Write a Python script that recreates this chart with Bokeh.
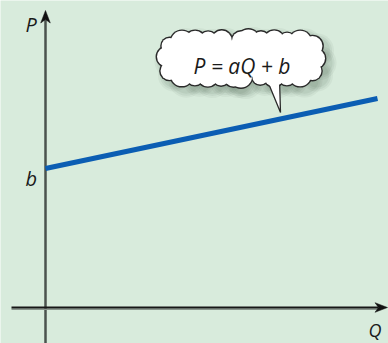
import numpy as np
from bokeh.plotting import figure
from bokeh.models import Range1d
from bokeh.core.properties import value
from bokeh.embed import file_html
from bokeh.resources import INLINE

# ---- chart values (1 unit = 10 px) ----
q_values = [0.0, 33.2]      # Q at start / end of the drawn line
p_values = [13.9, 20.9]     # P values: intercept b = 13.9
b_label = ["b"]
equation_text = ["P = aQ + b"]
axis_titles = ["P", "Q"]

BG = "#d8ebdc"
MARGIN = 0
W, H = 388, 343
PX = 10.0
OX, OY = 45.0, 307.0   # page pixel of the origin


def ux(px):
    return (px - OX) / PX


def uy(py):
    return (OY - py) / PX


p = figure(width=W, height=H,
           x_range=Range1d(ux(MARGIN), ux(MARGIN + W)),
           y_range=Range1d(uy(MARGIN + H), uy(MARGIN)),
           x_axis_type=None, y_axis_type=None,
           output_backend="svg", toolbar_location=None,
           min_border=0, outline_line_color=None,
           background_fill_color=BG, border_fill_color=BG)
p.grid.visible = False

# ---- axes ----
y_low = uy(MARGIN + H)
p.segment(x0=[0], y0=[y_low], x1=[0], y1=[uy(19)], line_width=2.5, line_color="#4b534e")
tip = uy(10)
p.patch([0, -0.48, 0, 0.48], [tip, tip - 1.25, tip - 0.9, tip - 1.25],
        fill_color="#111111", line_color="#111111", line_width=0.5)

p.segment(x0=[ux(11)], y0=[-0.17], x1=[ux(378)], y1=[-0.17], line_width=1.5, line_color="#8a968d")
p.segment(x0=[ux(11)], y0=[0], x1=[ux(378)], y1=[0], line_width=2, line_color="#161616")
tipx = ux(387)
p.patch([tipx, tipx - 1.25, tipx - 0.9, tipx - 1.25], [0, 0.48, 0, -0.48],
        fill_color="#111111", line_color="#111111", line_width=0.5)

# ---- data line ----
p.line(q_values, p_values, line_width=5, line_color="#0b5db3", line_cap="butt")

# ---- labels ----
font = value("Open Sans")
p.text(x=[ux(25)], y=[uy(24)], text=[axis_titles[0]], text_font=font,
       text_font_style="italic", text_font_size="20px", text_align="left",
       text_baseline="alphabetic", text_color="#1a1a1a")
p.text(x=[ux(25)], y=[uy(178)], text=b_label, text_font=font,
       text_font_style="italic", text_font_size="20px", text_align="left",
       text_baseline="alphabetic", text_color="#1a1a1a")
p.text(x=[ux(368)], y=[uy(329)], text=[axis_titles[1]], text_font=font,
       text_font_style="italic", text_font_size="18px", text_align="left",
       text_baseline="alphabetic", text_color="#1a1a1a")

# ---- speech cloud ----
cx, cy = 240.5, 58.0
ea, eb = 74.0, 18.0
t = np.linspace(0, 2 * np.pi, 2000, endpoint=False)
n = 5.0
sx = cx + ea * np.sign(np.cos(t)) * np.abs(np.cos(t)) ** (2 / n)
sy = cy + eb * np.sign(np.sin(t)) * np.abs(np.sin(t)) ** (2 / n)
seg = np.hypot(np.diff(np.r_[sx, sx[0]]), np.diff(np.r_[sy, sy[0]]))
cum = np.r_[0, np.cumsum(seg)][:-1]
total = seg.sum()
nb = 26
idx = [int(np.searchsorted(cum, total * k / nb)) % len(t) for k in range(nb)]
bx = sx[idx]
by = sy[idx]
pattern = [10, 9, 11, 9, 10, 8, 11, 10, 9]
br = np.array([pattern[k % len(pattern)] for k in range(nb)], dtype=float)

bxu = ux(bx)
byu = uy(by)
# shadow
for grow, alpha in [(7, 0.06), (5, 0.07), (3, 0.08)]:
    p.scatter(bxu + 0.45, byu - 0.45, size=2 * (br + grow), marker="circle",
              fill_color="#3d5a46", fill_alpha=alpha, line_color=None)
# outline
OUT = 1.4
p.scatter(bxu, byu, size=2 * (br + OUT), marker="circle", fill_color="#2a2a2a", line_color=None)
# tail
tx = [266.0, 279.0, 280.0]
ty = [78.0, 78.0, 112.0]
p.patch(ux(np.array(tx)), uy(np.array(ty)), fill_color="white", line_color="#2a2a2a", line_width=1.3)
# white fill
p.scatter(bxu, byu, size=2 * br, marker="circle", fill_color="white", line_color=None)
p.patch(ux(sx), uy(sy), fill_color="white", line_color=None)

p.text(x=[ux(241.5)], y=[uy(65)], text=equation_text, text_font=font,
       text_font_style="italic", text_font_size="21px", text_align="center",
       text_baseline="alphabetic", text_color="#1a1a1a")

open("out.html", "w").write(file_html(p, INLINE))
